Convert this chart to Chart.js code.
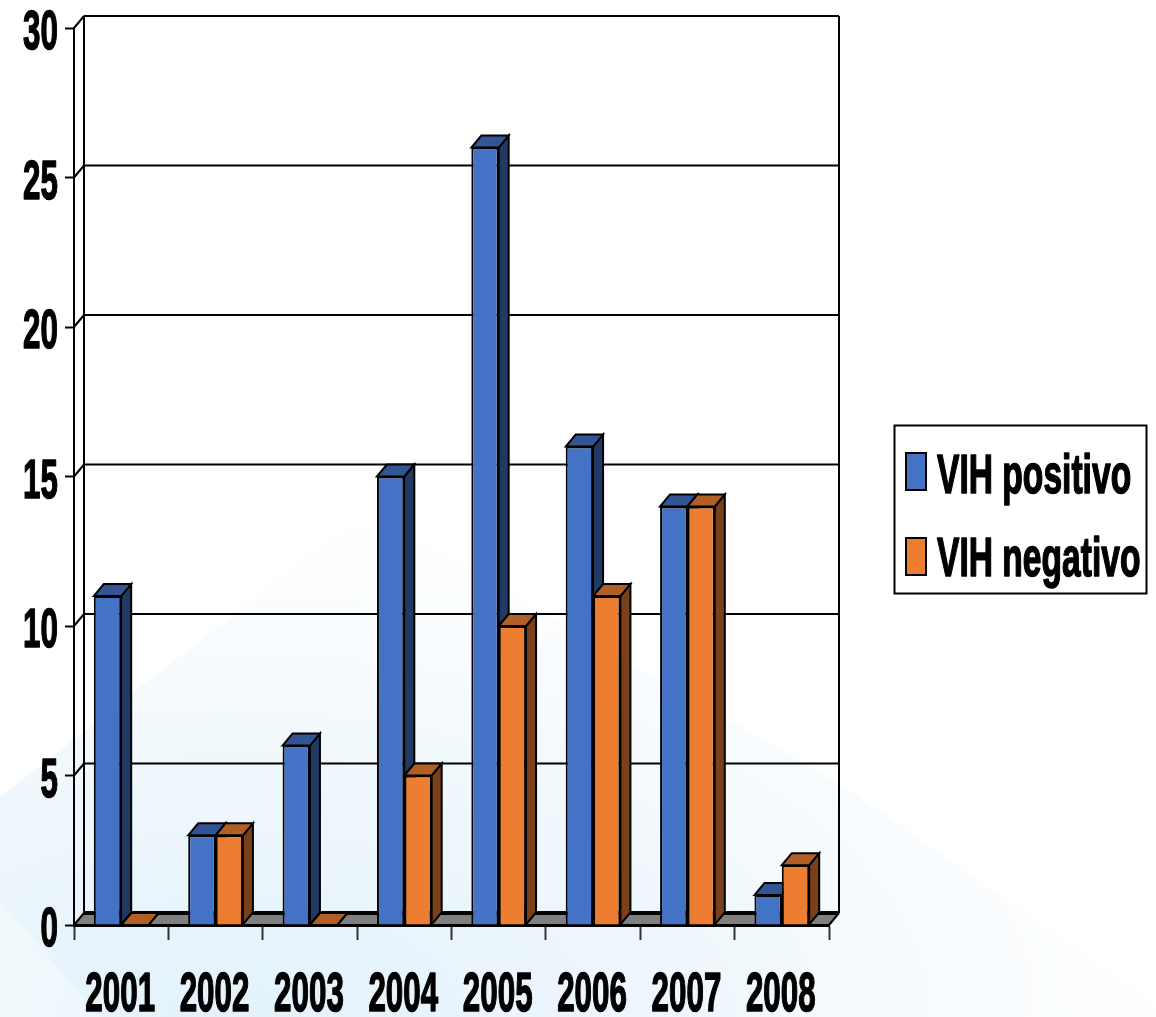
<!DOCTYPE html>
<html>
<head>
<meta charset="utf-8">
<style>
  html, body { margin: 0; padding: 0; background: #fff; }
  body { width: 1156px; height: 1017px; overflow: hidden; position: relative; }
  /* pale slide backdrop behind the transparent canvas */
  .glow, .corner { position: absolute; left: 0; top: 0; width: 1156px; height: 1017px; }
  .glow {
    background: radial-gradient(ellipse 1000px 520px at 230px 1017px, #e3f2fb 0%, #eef7fc 45%, #f9fcfe 75%, #ffffff 100%);
    clip-path: polygon(0 797px, 367px 510px, 850px 790px, 1156px 1005px, 1156px 1017px, 0 1017px);
  }
  .corner {
    background: rgba(255,255,255,.35);
    clip-path: polygon(0 900px, 100px 1017px, 0 1017px);
  }
  .wrap { position: absolute; left: 0; top: 0; width: 1156px; height: 1017px; }
  canvas { display: block; }
</style>
<script src="https://cdn.jsdelivr.net/npm/chart.js@4"></script>
</head>
<body>
<div class="glow"></div>
<div class="corner"></div>
<div class="wrap"><canvas id="chart"></canvas></div>
<script>
const years = ["2001", "2002", "2003", "2004", "2005", "2006", "2007", "2008"];
const positivo = [11, 3, 6, 15, 26, 16, 14, 1];
const negativo = [0, 3, 0, 5, 10, 11, 14, 2];
const yTicks = [0, 5, 10, 15, 20, 25, 30];

const blue = { front: "#4472c4", side: "#223a63", top: "#335593" };
const orange = { front: "#ed7d31", side: "#7a4019", top: "#b25f25" };
const depthX = 10, depthY = 12;
const labelFont = "bold 56px 'Liberation Sans'";
const labelSquash = 0.56;
const legendSquash = 0.6;

// condensed bold text, canvas fonts have no horizontal scale of their own
function squashedText(ctx, text, x, y, align, squash) {
  ctx.save();
  ctx.font = labelFont;
  ctx.fillStyle = "#000";
  ctx.strokeStyle = "#000";
  ctx.lineWidth = 1.6;
  ctx.lineJoin = "round";
  ctx.textAlign = align;
  ctx.textBaseline = "alphabetic";
  ctx.translate(x, y);
  ctx.scale(squash, 1);
  ctx.fillText(text, 0, 0);
  ctx.strokeText(text, 0, 0);
  ctx.restore();
}

function poly(ctx, pts, fill, stroke, width) {
  ctx.beginPath();
  pts.forEach((p, i) => (i ? ctx.lineTo(p[0], p[1]) : ctx.moveTo(p[0], p[1])));
  ctx.closePath();
  if (fill) {
    ctx.fillStyle = fill;
    ctx.fill();
  }
  if (stroke) {
    ctx.strokeStyle = stroke;
    ctx.lineWidth = width;
    ctx.stroke();
  }
}

function line(ctx, x1, y1, x2, y2, width) {
  ctx.beginPath();
  ctx.moveTo(x1, y1);
  ctx.lineTo(x2, y2);
  ctx.strokeStyle = "#000";
  ctx.lineWidth = width;
  ctx.stroke();
}

// back wall, floor and the diagonal stubs on the left wall
const wallPlugin = {
  id: "wall",
  beforeDraw(chart) {
    const { ctx, chartArea: a, scales } = chart;
    const y = scales.y;
    ctx.save();
    poly(ctx, [[a.left, a.bottom], [a.right, a.bottom], [a.right + depthX, a.bottom - depthY], [a.left + depthX, a.bottom - depthY]], "#808080");
    line(ctx, a.left + depthX, a.top - depthY, a.left + depthX, a.bottom - depthY, 2);
    line(ctx, a.right + depthX, a.top - depthY, a.right + depthX, a.bottom - depthY, 2);
    line(ctx, a.right, a.bottom, a.right + depthX, a.bottom - depthY, 2);
    yTicks.forEach((v) => {
      const py = y.getPixelForValue(v);
      line(ctx, a.left + depthX, py - depthY, a.right + depthX, py - depthY, v === 0 ? 4 : 2);
      line(ctx, a.left, py, a.left + depthX, py - depthY, 2);
    });
    ctx.restore();
  },
  // side and top faces go under the fronts the bar controller draws
  beforeDatasetsDraw(chart) {
    const { ctx } = chart;
    const faces = [blue, orange];
    ctx.save();
    ctx.lineJoin = "miter";
    chart.data.datasets.forEach((ds, d) => {
      chart.getDatasetMeta(d).data.forEach((bar) => {
        const { x, y, width, base } = bar.getProps(["x", "y", "width", "base"], true);
        const l = x - width / 2, r = x + width / 2;
        poly(ctx, [[r, y], [r + depthX, y - depthY], [r + depthX, base - depthY], [r, base]], faces[d].side, "#000", 2);
        poly(ctx, [[l, y], [l + depthX, y - depthY], [r + depthX, y - depthY], [r, y]], faces[d].top, "#000", 2);
      });
    });
    ctx.restore();
  },
  afterDraw(chart) {
    const { ctx, scales } = chart;
    // value and category labels
    yTicks.forEach((v) => {
      squashedText(ctx, String(v), 58, scales.y.getPixelForValue(v) + 21, "right", labelSquash);
    });
    years.forEach((yr, i) => {
      squashedText(ctx, yr, scales.x.getPixelForValue(i) - 1, 1011, "center", labelSquash);
    });

    // legend box
    ctx.save();
    ctx.fillStyle = "#fff";
    ctx.fillRect(894.5, 425.5, 252, 168);
    ctx.strokeStyle = "#000";
    ctx.lineWidth = 2;
    ctx.strokeRect(894.5, 425.5, 252, 168);
    const swatchY = [453, 538], textY = [493, 576];
    chart.data.datasets.forEach((ds, d) => {
      ctx.fillStyle = ds.backgroundColor;
      ctx.fillRect(906, swatchY[d], 20, 37);
      ctx.lineWidth = 2;
      ctx.strokeRect(906, swatchY[d], 20, 37);
      squashedText(ctx, ds.label, 937, textY[d], "left", legendSquash);
    });
    ctx.restore();
  },
};

new Chart(document.getElementById("chart"), {
  type: "bar",
  data: {
    labels: years,
    datasets: [
      { label: "VIH positivo", data: positivo, backgroundColor: blue.front, borderColor: "#000", borderWidth: 2 },
      { label: "VIH negativo", data: negativo, backgroundColor: orange.front, borderColor: "#000", borderWidth: 2 },
    ],
  },
  plugins: [wallPlugin],
  options: {
    responsive: true,
    maintainAspectRatio: false,
    animation: false,
    categoryPercentage: 0.58,
    barPercentage: 1,
    layout: { padding: { left: 0, top: 28, right: 327, bottom: 0 } },
    plugins: { legend: { display: false }, tooltip: { enabled: false } },
    scales: {
      x: {
        afterFit: (s) => { s.height = 92; },
        grid: { drawOnChartArea: false, drawTicks: true, tickLength: 15, tickColor: "#333", tickWidth: 2 },
        border: { color: "#000", width: 3 },
        ticks: { display: false },
      },
      y: {
        min: 0,
        max: 30,
        afterFit: (s) => { s.width = 74; },
        afterBuildTicks: (s) => { s.ticks = yTicks.map((value) => ({ value })); },
        grid: { drawOnChartArea: false, drawTicks: true, tickLength: 9, tickColor: "#000", tickWidth: 2 },
        border: { color: "#000", width: 2 },
        ticks: { display: false },
      },
    },
  },
});
</script>
</body>
</html>
